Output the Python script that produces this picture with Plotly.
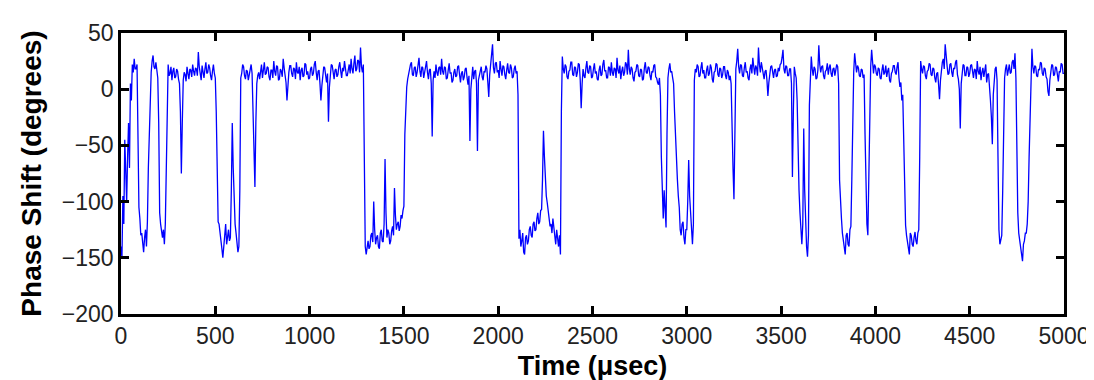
import plotly.graph_objects as go

# Sampling grid of the trace (microseconds)
sample_step_us = 5
# Phase shift (degrees), one row per 100 us (20 samples each)
phase_deg = [
    -140, -150, -95, -120, -45, -80, -100, -60, -30, -70, 5, -10, 22, 15, 27, 18, 18, 22, -60, -105,
    -115, -130, -128, -138, -145, -132, -125, -140, -118, -70, -35, -10, 15, 25, 30, 20, 18, 24, 14, 10,
    -30, -110, -120, -128, -132, -125, -138, -120, -65, 5, 22, 12, 14, 20, 8, 16, 19, 10, 11, 18,
    16, 9, 5, -20, -75, -30, 8, 15, 13, 7, 20, 14, 9, 18, 17, 11, 22, 16, 12, 19,
    18, 12, 33, 20, 14, 8, 21, 15, 10, 18, 24, 14, 15, 22, 19, 12, 8, 16, 22, 14,
    10, -20, -75, -118, -120, -130, -135, -142, -150, -138, -128, -120, -138, -130, -125, -135, -132, -90, -30, -70,
    -100, -120, -128, -135, -145, -140, -90, 10, 14, 22, 20, 12, 9, 17, 16, 8, 12, 19, 22, 14,
    -14, -50, -87, -30, 5, 12, 15, 9, 18, 22, 10, 16, 24, 13, 14, 20, 19, 11, 8, 17,
    17, 10, 25, 16, 12, 21, 20, 8, 9, 18, 16, 11, 27, 19, 13, 6, -10, 8, 15, 21,
    21, 14, 11, 19, 18, 9, 24, 15, 14, 20, 8, 17, 19, 11, 12, 23, 22, 13, 16, 9,
    10, 18, 20, 12, 14, 22, 25, 15, 8, 16, 17, 5, -10, 3, 12, 20, 19, 10, 6, 14,
    -29, 2, 15, 22, 21, 12, 9, 17, 18, 11, 13, 20, 24, 16, 10, 19, 16, 25, 20, 12,
    12, 20, 22, 14, 27, 18, 14, 23, 30, 16, 18, 26, 25, 15, 37, 20, 15, 22, -110, -140,
    -147, -138, -135, -142, -140, -130, -128, -136, -100, -125, -138, -132, -130, -140, -142, -128, -125, -135, -136, -120,
    -62, -110, -132, -125, -128, -138, -135, -126, -122, -130, -88, -112, -125, -120, -118, -126, -122, -112, -115, -108,
    -104, -40, -6, 2, 9, 14, 17, 22, 24, 13, 12, 19, 20, 11, 15, 25, 28, 16, 11, 20,
    19, 10, 14, 21, 25, 15, 9, 17, 18, 5, -42, 8, 16, 10, 22, 15, 12, 19, 20, 13,
    27, 16, 13, 20, 19, 9, 10, 17, 23, 14, 15, 6, 8, 15, 18, 11, 12, 20, 21, 13,
    6, 14, 16, 8, 11, 18, 19, 10, 4, 12, -46, 0, 14, 20, 9, 16, 17, 5, -55, 8,
    12, 18, 20, 11, 8, 16, 15, 21, 18, 6, -7, 13, 22, 28, 40, 19, 14, 23, 24, 15,
    17, 10, 25, 18, 12, 21, 20, 13, 9, 17, 23, 15, 14, 22, 19, 10, 11, 18, 21, 14,
    16, -5, -133, -125, -140, -135, -128, -145, -147, -132, -130, -138, -135, -125, -122, -130, -132, -120, -118, -126,
    -125, -115, -110, -120, -118, -108, -107, -80, -37, -60, -85, -95, -101, -110, -112, -122, -120, -128, -115, -125,
    -132, -138, -125, -136, -140, -130, -147, -20, 29, 18, 14, 22, 20, 11, 9, 16, 17, 24, 24, 13,
    12, 20, 19, 11, 15, 23, 22, 8, -17, 5, 18, 12, 10, 19, 25, 15, 14, 21, 20, 10,
    11, 18, 23, 14, 16, 9, 8, 17, 21, 12, 13, 22, 26, 16, 17, 10, 10, 20, 19, 12,
    24, 15, 12, 19, 18, 10, 28, 17, 14, 21, 9, 16, 20, 12, 15, 24, 22, 13, 35, 18,
    13, 20, 18, 10, 7, 15, 16, 22, 21, 12, 11, 18, 17, 8, 9, 19, 24, 15, 14, 20,
    19, 12, 8, 16, 15, 21, 22, 11, 10, 6, 4, 10, -5, -60, -100, -115, -90, -110, -123, -40,
    10, 18, 23, 15, 16, 10, 5, -20, -46, -65, -80, -95, -105, -125, -130, -120, -118, -132, -138, -125,
    -125, -100, -63, -95, -110, -128, -138, -120, 8, 18, 15, 22, 20, 11, 12, 19, 24, 14, 17, 10,
    10, 17, 21, 12, 14, 22, 19, 9, 6, 15, 16, 23, 22, 13, 11, 19, 18, 10, 13, 20,
    20, 12, 9, 17, 15, 8, 12, 5, -42, -70, -98, -20, 18, 25, 36, 20, 14, 22, 21, 12,
    11, 19, 24, 15, 16, 10, 8, 18, 22, 14, 28, 20, 13, 21, 19, 12, 37, 22, 15, 24,
    20, 13, 9, 16, 17, 8, -6, 6, 14, 20, 21, 12, 10, 17, 18, 11, 12, 19, 16, 22,
    23, 28, 35, 18, 14, 21, 20, 12, 12, 18, 18, 5, -78, -20, 20, 14, 10, -10, -60, -90,
    -110, -125, -138, -120, -35, -90, -125, -140, -149, -130, -14, 15, 29, 18, 12, 20, 18, 9, 10, 17,
    39, 22, 15, 20, 21, 12, 9, 16, 17, 23, 13, 19, 22, 14, 11, 18, 19, 12, 16, 22,
    20, 5, -81, -105, -115, -128, -135, -142, -147, -130, -128, -138, -140, -125, -122, -80, -1, 15, 32, 18,
    15, 21, 19, 12, 11, 18, 17, 10, 13, -40, -92, -120, -130, -80, -23, 20, 35, 18, 14, 22,
    20, 14, 12, 19, 18, 10, 9, 17, 22, 13, 15, 21, 11, 16, 19, 8, 6, 14, 16, 21,
    21, 15, 13, 20, 24, 10, 2, 6, -10, -5, -39, -90, -121, -130, -135, -140, -147, -128, -130, -138,
    -140, -132, -127, -135, -138, -128, -125, -60, 25, 18, 14, 21, 20, 12, 9, 16, 17, 23, 22, 13,
    12, 19, 18, 10, 6, 14, 15, 4, -9, 8, 19, 24, 27, 18, 40, 25, 21, 13, 14, 22,
    23, 15, 11, 19, 18, 24, 26, 13, 9, 0, -35, 5, 16, 22, 21, 12, 12, 20, 19, 11,
    14, 21, 22, 12, 10, 18, 17, 9, 25, 16, 13, 20, 8, 15, 19, 11, 15, 22, 6, 13,
    14, 5, -10, -25, -49, -5, 12, 18, 20, 8, -60, -125, -138, -132, -130, -90, -20, 10, 18, 22,
    12, 19, 22, 14, 15, 24, 26, 18, 32, 10, -61, -110, -128, -135, -140, -145, -153, -138, -135, -128,
    -128, -120, -100, -60, -20, 10, 36, 20, 14, 21, 20, 12, 11, 18, 17, 24, 23, 14, 12, 19,
    18, 11, 9, -2, -6, 8, 16, 22, 21, 12, 13, 20, 19, 10, 7, 16, 15, 23, 22, 14,
    14,
]
time_us = [i * sample_step_us for i in range(len(phase_deg))]

x_ticks = [0, 500, 1000, 1500, 2000, 2500, 3000, 3500, 4000, 4500, 5000]
y_ticks = [-200, -150, -100, -50, 0, 50]

FONT = "Liberation Sans, Arial, sans-serif"

fig = go.Figure()
fig.add_trace(go.Scatter(
    x=time_us, y=phase_deg, mode="lines",
    line=dict(color="#0000ff", width=1.3),
    showlegend=False,
))

axis_common = dict(
    showline=True, linecolor="black", linewidth=2.5, mirror="ticks",
    ticks="inside", ticklen=8, tickwidth=2.5, tickcolor="black",
    showgrid=False, zeroline=False,
    tickfont=dict(family=FONT, size=23, color="#222222"),
)

fig.update_layout(
    width=1094, height=380,
    margin=dict(l=113, r=36, t=18, b=72),
    paper_bgcolor="white", plot_bgcolor="white",
    xaxis=dict(
        range=[0, 5000], tickvals=x_ticks,
        title=dict(text="<b>Time (\u03bcsec)</b>", font=dict(family=FONT, size=27, color="black"),
                   standoff=8),
        **axis_common,
    ),
    yaxis=dict(
        range=[-200, 50], tickvals=y_ticks,
        title=dict(text="<b>Phase Shift (degrees)</b>", font=dict(family=FONT, size=28, color="black"),
                   standoff=13),
        **axis_common,
    ),
)

fig.write_html("out.html")
